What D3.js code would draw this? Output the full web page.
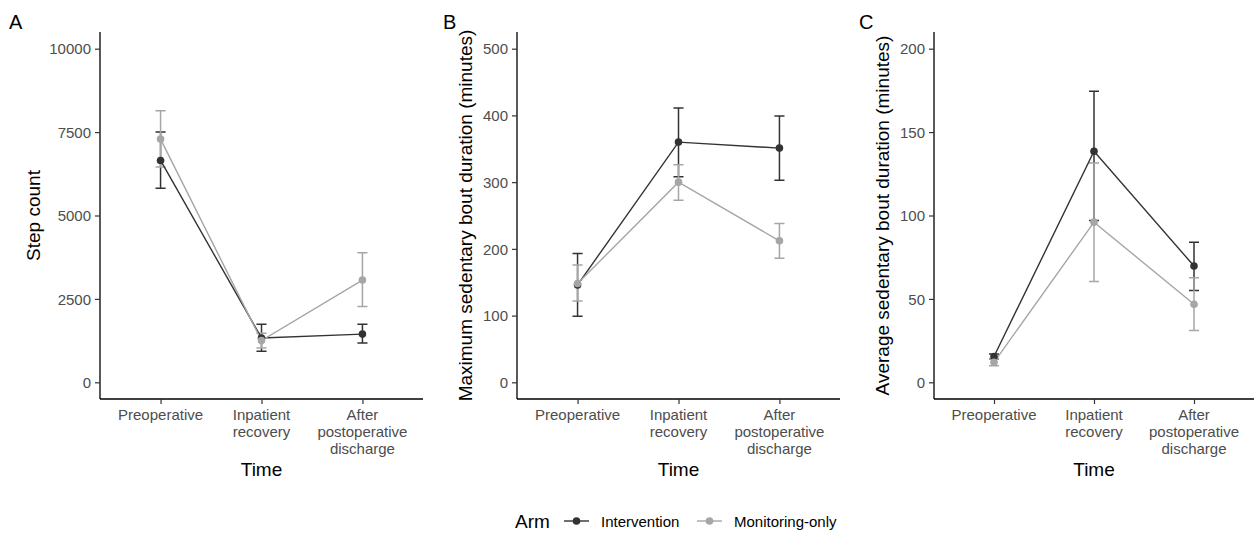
<!DOCTYPE html>
<html>
<head>
<meta charset="utf-8">
<script src="https://cdn.jsdelivr.net/npm/d3@7"></script>
<style>
  body { margin: 0; background: #fff; }
  text { font-family: "Liberation Sans", Arial, sans-serif; }
</style>
</head>
<body>
<svg id="chart" width="1255" height="535"></svg>
<script>
// categories and legend
const times = ['Preoperative', 'Inpatient recovery', 'After postoperative discharge'];
const timeLines = [['Preoperative'], ['Inpatient', 'recovery'], ['After', 'postoperative', 'discharge']];
const arms = ['Intervention', 'Monitoring-only'];

// A - step count (mean, lower, upper per time)
const stepsInt = [6650, 1330, 1445];
const stepsIntLo = [5820, 930, 1175];
const stepsIntHi = [7500, 1740, 1740];
const stepsMon = [7290, 1250, 3065];
const stepsMonLo = [6450, 1030, 2270];
const stepsMonHi = [8140, 1470, 3880];
const stepsTicks = [0, 2500, 5000, 7500, 10000];

// B - maximum sedentary bout
const maxInt = [146, 360, 351];
const maxIntLo = [99, 308, 303];
const maxIntHi = [193, 411, 399];
const maxMon = [148, 300, 212];
const maxMonLo = [122, 273, 186];
const maxMonHi = [176, 326, 238];
const maxTicks = [0, 100, 200, 300, 400, 500];

// C - average sedentary bout
const avgInt = [15.5, 138.5, 69.7];
const avgIntLo = [14, 97, 55];
const avgIntHi = [17, 174.5, 84];
const avgMon = [12, 96, 46.8];
const avgMonLo = [10, 60.5, 31];
const avgMonHi = [14, 131.5, 62.7];
const avgTicks = [0, 50, 100, 150, 200];

const colors = { Intervention: '#333333', 'Monitoring-only': '#a6a6a6' };

const panels = [
  { tag: 'A', title: 'Step count', left: 100, right: 423, titleX: 34, tagX: 9, domain: [-500, 10500], ticks: stepsTicks,
    series: [[stepsInt, stepsIntLo, stepsIntHi], [stepsMon, stepsMonLo, stepsMonHi]] },
  { tag: 'B', title: 'Maximum sedentary bout duration (minutes)', left: 517, right: 840, titleX: 466, tagX: 443, domain: [-25, 525], ticks: maxTicks,
    series: [[maxInt, maxIntLo, maxIntHi], [maxMon, maxMonLo, maxMonHi]] },
  { tag: 'C', title: 'Average sedentary bout duration (minutes)', left: 934, right: 1254, titleX: 883, tagX: 859, domain: [-10, 210], ticks: avgTicks,
    series: [[avgInt, avgIntLo, avgIntHi], [avgMon, avgMonLo, avgMonHi]] },
];

const svg = d3.select('#chart');
const plotTop = 32, plotBottom = 399;

panels.forEach(p => {
  const g = svg.append('g');
  const x = d3.scalePoint().domain(times).range([p.left, p.right]).padding(0.6);
  const y = d3.scaleLinear().domain(p.domain).range([plotBottom, plotTop]);

  // y axis
  const yAx = g.append('g').attr('transform', `translate(${p.left},0)`)
    .call(d3.axisLeft(y).tickValues(p.ticks).tickSize(5).tickPadding(4).tickFormat(d3.format('d')));
  yAx.select('.domain').attr('d', `M0,${plotTop}V${plotBottom}`).attr('stroke', '#000').attr('stroke-width', 1.3);
  yAx.selectAll('.tick line').attr('stroke', '#333').attr('stroke-width', 1.2);
  yAx.selectAll('.tick text').attr('fill', '#4d4d4d').style('font-size', '15px').attr('dy', '0.35em');

  // x axis
  const xAx = g.append('g').attr('transform', `translate(0,${plotBottom})`)
    .call(d3.axisBottom(x).tickSize(5).tickFormat(''));
  xAx.select('.domain').attr('d', `M${p.left},0H${p.right}`).attr('stroke', '#000').attr('stroke-width', 1.3);
  xAx.selectAll('.tick line').attr('stroke', '#333').attr('stroke-width', 1.2);
  times.forEach((t, i) => {
    const tx = g.append('text').attr('x', x(t)).attr('y', plotBottom + 21)
      .attr('text-anchor', 'middle').attr('fill', '#4d4d4d').style('font-size', '15px');
    timeLines[i].forEach((ln, j) => tx.append('tspan').attr('x', x(t)).attr('dy', j ? 17 : 0).text(ln));
  });

  // titles
  g.append('text').attr('x', (p.left + p.right) / 2).attr('y', 476).attr('text-anchor', 'middle')
    .style('font-size', '19px').text('Time');
  g.append('text').attr('transform', `translate(${p.titleX + 6},${(plotTop + plotBottom) / 2}) rotate(-90)`)
    .attr('text-anchor', 'middle').style('font-size', '19px').text(p.title);
  g.append('text').attr('x', p.tagX).attr('y', 29).style('font-size', '20px').text(p.tag);

  // layers like ggplot: all error bars, then all lines, then all points
  const capW = x.step() * 0.1;
  const data = p.series.map((s, k) => ({
    col: colors[arms[k]],
    rows: times.map((t, i) => ({ t, m: s[0][i], lo: s[1][i], hi: s[2][i] }))
  }));
  data.forEach(s => {
    g.append('g').attr('stroke', s.col).attr('stroke-width', 1.5).attr('fill', 'none')
      .selectAll('path').data(s.rows).join('path')
      .attr('d', d => `M${x(d.t) - capW / 2},${y(d.hi)}H${x(d.t) + capW / 2}M${x(d.t)},${y(d.hi)}V${y(d.lo)}M${x(d.t) - capW / 2},${y(d.lo)}H${x(d.t) + capW / 2}`);
  });
  data.forEach(s => {
    g.append('path').datum(s.rows)
      .attr('d', d3.line().x(d => x(d.t)).y(d => y(d.m)))
      .attr('fill', 'none').attr('stroke', s.col).attr('stroke-width', 1.4);
  });
  data.forEach(s => {
    g.append('g').selectAll('circle').data(s.rows).join('circle')
      .attr('cx', d => x(d.t)).attr('cy', d => y(d.m)).attr('r', 3.8).attr('fill', s.col);
  });
});

// legend
const leg = svg.append('g');
leg.append('text').attr('x', 515).attr('y', 528).style('font-size', '19px').text('Arm');
const legX = [564, 697];
arms.forEach((a, i) => {
  const lx = legX[i];
  leg.append('line').attr('x1', lx).attr('x2', lx + 25).attr('y1', 521).attr('y2', 521)
    .attr('stroke', colors[a]).attr('stroke-width', 1.4);
  leg.append('circle').attr('cx', lx + 12.5).attr('cy', 521).attr('r', 3.8).attr('fill', colors[a]);
  leg.append('text').attr('x', lx + 37).attr('y', 526.5).style('font-size', '15px').attr('fill', '#000').text(a);
});
</script>
</body>
</html>
